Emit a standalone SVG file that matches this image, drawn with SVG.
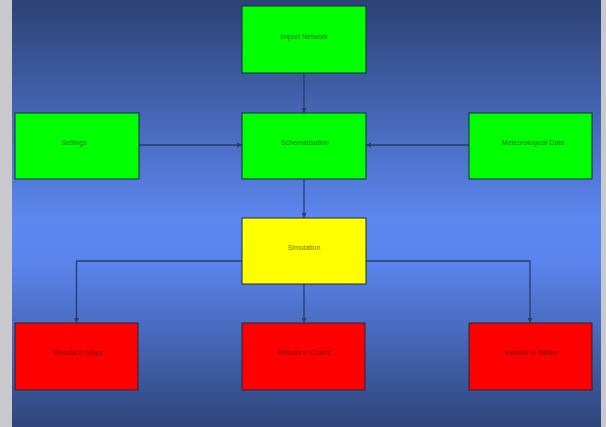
<svg xmlns="http://www.w3.org/2000/svg" width="606" height="427" viewBox="0 0 606 427">
  <defs>
    <linearGradient id="bg" x1="0" y1="0" x2="0" y2="1">
      <stop offset="0" stop-color="#2d4274"/>
      <stop offset="0.52" stop-color="#5d88f2"/>
      <stop offset="0.62" stop-color="#5a84ec"/>
      <stop offset="1" stop-color="#2f4579"/>
    </linearGradient>
    <marker id="arr" viewBox="0 0 10 10" refX="10" refY="5" markerWidth="5" markerHeight="5" orient="auto" markerUnits="userSpaceOnUse">
      <path d="M0,0 L10,5 L0,10 z" fill="#2a3b68"/>
    </marker>
  </defs>
  <style>
    .box { stroke: #1d2b40; stroke-width: 1; }
    .g { fill: #00ff00; }
    .y { fill: #ffff00; }
    .r { fill: #ff0000; }
    .lbl { font-family: "Liberation Sans", Arial, sans-serif; font-size: 7px; text-anchor: middle; fill: #000000; fill-opacity: 0.6; }
    .edge { fill: none; stroke: #2a3b68; stroke-width: 1.3; }
  </style>
  <rect x="0" y="0" width="606" height="427" fill="#c9c9cd"/>
  <rect x="12" y="0" width="589" height="427" fill="url(#bg)"/>

  <g id="connectors">
    <path class="edge" d="M304,73 L304,113" marker-end="url(#arr)"/>
    <path class="edge" d="M139,145 L242,145" marker-end="url(#arr)"/>
    <path class="edge" d="M469,145 L366,145" marker-end="url(#arr)"/>
    <path class="edge" d="M304,179 L304,218" marker-end="url(#arr)"/>
    <path class="edge" d="M242,261 L76.5,261 L76.5,323" marker-end="url(#arr)"/>
    <path class="edge" d="M366,261 L530,261 L530,323" marker-end="url(#arr)"/>
    <path class="edge" d="M304,284 L304,323" marker-end="url(#arr)"/>
  </g>

  <g id="import-network">
    <rect class="box g" x="242" y="6" width="124" height="67"/>
    <text class="lbl" x="304" y="39">Import Network</text>
  </g>
  <g id="settings">
    <rect class="box g" x="15" y="113" width="124" height="66"/>
    <text class="lbl" x="74" y="145">Settings</text>
  </g>
  <g id="schematisation">
    <rect class="box g" x="242" y="113" width="124" height="66"/>
    <text class="lbl" x="305" y="145">Schematisation</text>
  </g>
  <g id="meteorological-data">
    <rect class="box g" x="469" y="113" width="123" height="66"/>
    <text class="lbl" x="533" y="145">Meteorological Data</text>
  </g>
  <g id="simulation">
    <rect class="box y" x="242" y="218" width="124" height="66"/>
    <text class="lbl" x="304" y="250">Simulation</text>
  </g>
  <g id="results-maps">
    <rect class="box r" x="15" y="323" width="123" height="67"/>
    <text class="lbl" x="78" y="355">Results in Maps</text>
  </g>
  <g id="results-charts">
    <rect class="box r" x="242" y="323" width="123" height="67"/>
    <text class="lbl" x="304" y="355">Results in Charts</text>
  </g>
  <g id="results-tables">
    <rect class="box r" x="469" y="323" width="123" height="67"/>
    <text class="lbl" x="531" y="355">Results in Tables</text>
  </g>
</svg>
